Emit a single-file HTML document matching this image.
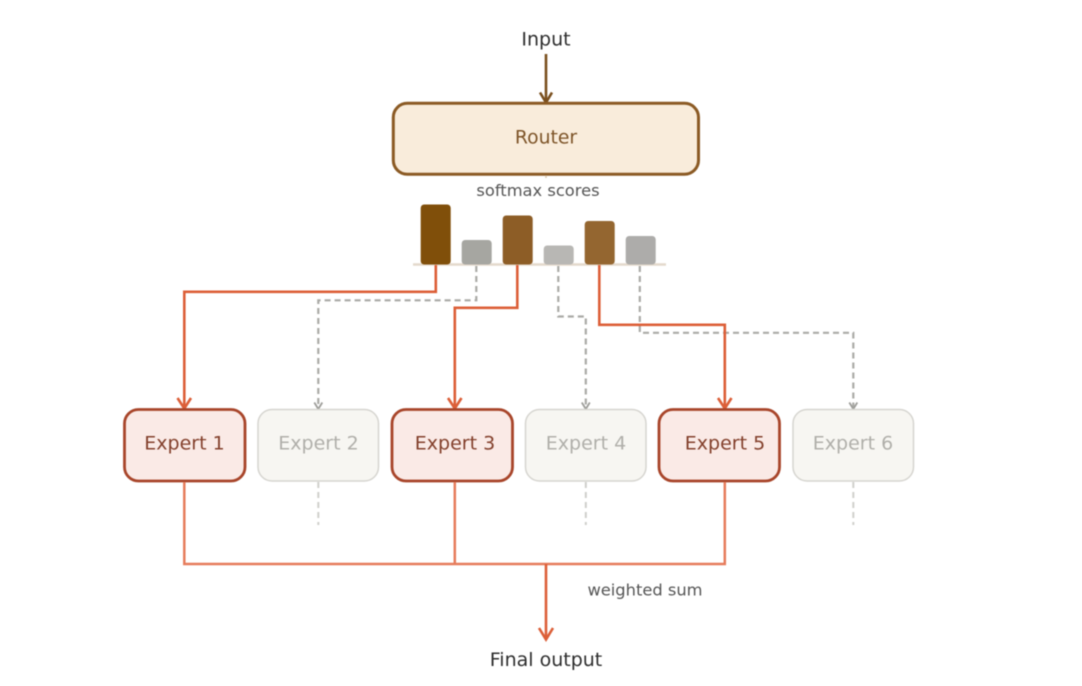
<!DOCTYPE html>
<html>
<head>
<meta charset="utf-8">
<style>
html,body{margin:0;padding:0;background:#fff;width:1082px;height:686px;overflow:hidden}
svg{display:block;filter:blur(0.5px)}
text{font-family:"DejaVu Sans",sans-serif;text-anchor:middle}
</style>
</head>
<body>
<svg width="1082" height="686" viewBox="0 0 1082 686" xmlns="http://www.w3.org/2000/svg">
<rect width="1082" height="686" fill="#ffffff"/>

<text x="546" y="45.5" font-size="19" fill="#2e2e2e">Input</text>
<path d="M546 54V102" stroke="#7a4f1e" stroke-width="2.6" fill="none"/>
<path d="M540 92.5L546 102.5L552 92.5" stroke="#7a4f1e" stroke-width="2.6" fill="none"/>

<rect x="393.3" y="103.3" width="305.2" height="71" rx="14" fill="#f9ecdb" stroke="#8b5a24" stroke-width="3"/>
<text x="546" y="143.5" font-size="18.8" fill="#7d5428">Router</text>
<path d="M546 175.5V178" stroke="#d8c8b0" stroke-width="1.5"/>
<text x="538" y="196" font-size="16.3" fill="#555555">softmax scores</text>

<!-- bars -->
<path d="M413 264.5H666" stroke="#e4d9cc" stroke-width="2.4"/>
<rect x="420.7" y="204.5" width="30" height="60" rx="3.5" fill="#804f0a"/>
<rect x="461.7" y="240" width="30" height="24.5" rx="3.5" fill="#a6a6a1"/>
<rect x="502.7" y="215.5" width="30" height="49" rx="3.5" fill="#8d5d26"/>
<rect x="543.7" y="245.5" width="30" height="19" rx="3.5" fill="#b8b7b4"/>
<rect x="584.7" y="221" width="30" height="43.5" rx="3.5" fill="#946630"/>
<rect x="625.7" y="236" width="30" height="28.5" rx="3.5" fill="#adacaa"/>

<!-- dashed routes -->
<g fill="none" stroke="#aaaaa6" stroke-width="2.2" stroke-dasharray="6 4">
<path d="M476.3 266V300.3H318.3V408"/>
<path d="M558.3 266V316.5H585.8V408"/>
<path d="M639.8 266V332.8H853.3V408"/>
</g>
<g fill="none" stroke="#9e9e9a" stroke-width="1.8">
<path d="M314.3 402.5L318.3 409L322.3 402.5"/>
<path d="M581.8 402.5L585.8 409L589.8 402.5"/>
<path d="M849.3 402.5L853.3 409L857.3 402.5"/>
</g>

<!-- active routes -->
<g fill="none" stroke="#dc5f38" stroke-width="2.6">
<path d="M435.8 265V291.8H184.3V408"/>
<path d="M517.3 265V307.8H454.8V408"/>
<path d="M599.3 265V324.8H724.8V408"/>
<path d="M177.5 398L184.3 408.5L191 398"/>
<path d="M448 398L454.8 408.5L461.5 398"/>
<path d="M718 398L724.8 408.5L731.5 398"/>
</g>

<!-- experts -->
<g stroke="#a8452a" stroke-width="2.8" fill="#faeae6">
<rect x="124.5" y="409.5" width="120.5" height="71.5" rx="14"/>
<rect x="392" y="409.5" width="120.5" height="71.5" rx="14"/>
<rect x="659" y="409.5" width="120.5" height="71.5" rx="14"/>
</g>
<g stroke="#d6d5d0" stroke-width="1.5" fill="#f7f6f2">
<rect x="258" y="409.5" width="120.5" height="71.5" rx="14"/>
<rect x="525.5" y="409.5" width="120.5" height="71.5" rx="14"/>
<rect x="793" y="409.5" width="120.5" height="71.5" rx="14"/>
</g>
<g font-size="19">
<text x="184.5" y="449.5" fill="#83402c">Expert 1</text>
<text x="318.5" y="449.5" fill="#b0afaa">Expert 2</text>
<text x="455" y="449.5" fill="#83402c">Expert 3</text>
<text x="586" y="449.5" fill="#b0afaa">Expert 4</text>
<text x="725" y="449.5" fill="#83402c">Expert 5</text>
<text x="853" y="449.5" fill="#b0afaa">Expert 6</text>
</g>

<!-- dashed stubs -->
<g fill="none" stroke="#cfcfcb" stroke-width="2" stroke-dasharray="6 4">
<path d="M318.3 482V525"/>
<path d="M585.8 482V525"/>
<path d="M853.3 482V525"/>
</g>

<!-- sum lines -->
<path d="M184.3 482V564H724.8V482M454.8 482V564" fill="none" stroke="#e67c5c" stroke-width="2.5"/>
<path d="M546 564V638" fill="none" stroke="#dc5f38" stroke-width="2.6"/>
<path d="M539 628L546 639.5L553 628" fill="none" stroke="#dc5f38" stroke-width="2.6"/>

<text x="645" y="595.5" font-size="16.3" fill="#555555">weighted sum</text>
<text x="546" y="666" font-size="19" fill="#2e2e2e">Final output</text>
</svg>
</body>
</html>
